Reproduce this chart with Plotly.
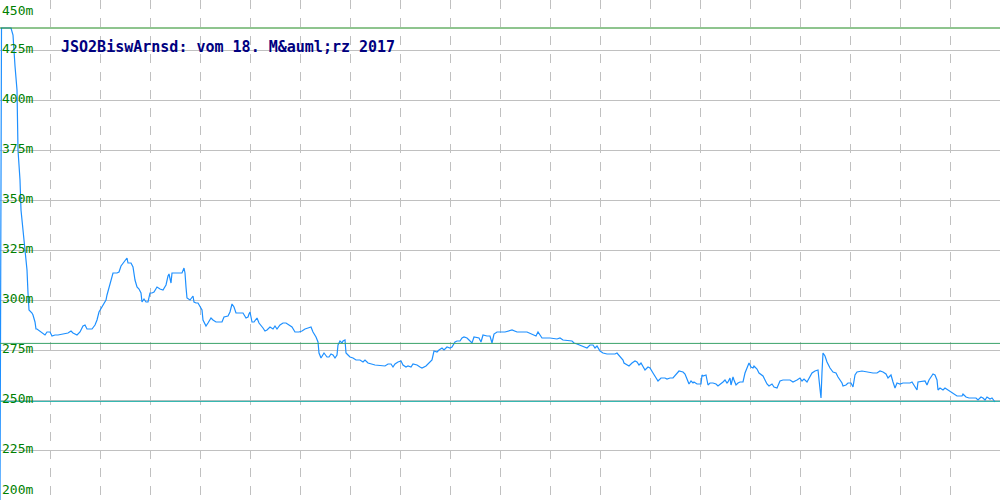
import plotly.graph_objects as go

# distance along track (chart units) and elevation in metres
dist = [0, 1.5, 11, 13, 15, 17, 18, 20, 21, 23, 25, 26, 27, 28, 29, 32, 33, 35, 36, 37, 40, 45, 47, 50, 52, 55, 58, 63, 68, 71, 73, 77, 80, 83, 85, 87, 92, 95, 97, 99, 102, 104, 106, 107, 109, 111, 113, 117, 119, 121, 124, 125, 127, 128, 131, 133, 135, 137, 139, 141, 142, 144, 146, 148, 150, 152, 154, 157, 160, 163, 166, 168, 169, 171, 172, 175, 182, 184, 185, 186, 187, 190, 192, 193, 194, 196, 198, 199, 202, 203, 206, 208, 211, 213, 216, 222, 224, 228, 230, 232, 234, 236, 243, 246, 248, 249, 250, 252, 254, 257, 259, 263, 265, 267, 270, 273, 275, 277, 280, 283, 286, 289, 292, 295, 299, 302, 305, 308, 311, 313, 316, 318, 319, 321, 323, 324, 327, 329, 331, 333, 335, 337, 338, 340, 342, 343, 345, 346, 348, 350, 353, 356, 360, 363, 365, 368, 375, 385, 388, 391, 393, 395, 398, 401, 403, 406, 408, 411, 413, 417, 420, 422, 426, 429, 432, 434, 437, 439, 442, 444, 447, 450, 452, 455, 457, 460, 462, 464, 467, 469, 472, 474, 477, 479, 481, 483, 487, 490, 492, 494, 497, 500, 505, 512, 517, 527, 533, 536, 538, 542, 550, 557, 560, 563, 572, 574, 577, 580, 583, 587, 590, 593, 595, 597, 600, 603, 607, 615, 617, 620, 623, 624, 627, 629, 632, 635, 637, 639, 641, 643, 645, 648, 650, 653, 656, 658, 661, 665, 667, 670, 673, 677, 679, 683, 685, 687, 689, 691, 693, 694, 697, 701, 702, 703, 706, 708, 710, 713, 716, 718, 721, 723, 725, 727, 728, 730, 731, 733, 734, 736, 738, 740, 743, 745, 747, 749, 751, 753, 754, 757, 759, 763, 765, 767, 769, 772, 774, 777, 780, 783, 790, 793, 797, 800, 802, 804, 807, 808, 812, 815, 818, 820, 821, 822, 823, 825, 827, 830, 833, 836, 838, 842, 843, 846, 848, 851, 853, 855, 857, 862, 867, 870, 873, 877, 880, 883, 886, 888, 891, 893, 895, 897, 900, 903, 907, 910, 912, 914, 917, 918, 922, 925, 927, 929, 933, 935, 937, 938, 940, 943, 945, 948, 950, 953, 957, 962, 963, 966, 969, 976, 978, 981, 983, 985, 987, 990, 992, 995]
elev = [200, 436, 436, 432.5, 417, 405, 375, 360, 345, 335, 325, 320, 315, 303.5, 295, 293.5, 292.5, 289, 285.5, 285.5, 284.5, 282.5, 284, 284, 282, 282.5, 282.5, 283, 283.5, 284.5, 283.5, 282.5, 284, 287, 287.5, 285.5, 285.5, 287.5, 290, 294, 296.5, 298.5, 300, 302.5, 306.5, 309, 313.5, 313.5, 314, 317, 319, 320, 321, 318.5, 318.5, 316.5, 310, 306.5, 305.5, 303.5, 299, 300.5, 299, 299, 303.5, 303.5, 304, 306.5, 305.5, 305, 307.5, 312, 313, 308.5, 313.5, 313.5, 313.5, 316, 313.5, 306.5, 301, 300, 301, 302, 299, 298.5, 298.5, 297.5, 295, 290, 287, 288.5, 291, 290, 289, 289, 291.5, 292, 294, 298, 296.5, 293.5, 293.5, 291, 291.5, 293, 294, 289, 289, 291, 288.5, 286, 284.5, 285, 286.5, 285.5, 287, 285.5, 287.5, 288.5, 288.5, 287.5, 286.5, 284, 284, 284.5, 285.5, 286, 286.5, 284, 281.5, 279, 273.5, 271, 272.5, 273.5, 271.5, 271.5, 273, 272.5, 271, 272.5, 277.5, 279.5, 278.5, 279.5, 280, 273.5, 272.5, 271.5, 271, 270, 270, 269, 270, 268.5, 267.5, 267, 268, 268, 266.5, 268, 269, 269.5, 267.5, 266.5, 267, 266.5, 268, 267.5, 266.5, 266, 267, 268.5, 270, 274.5, 274, 275, 276, 275, 276.5, 276, 276.5, 279, 279.5, 279.5, 281, 281.5, 281, 280, 278.5, 281.5, 281, 281, 279, 282.5, 282, 282, 278.5, 283, 284, 284, 284, 285, 284, 284, 282.5, 282, 284, 281, 281, 280.5, 281, 280, 279.5, 278.5, 278, 277.5, 277, 276, 277.5, 277.5, 276, 277, 274.5, 273.5, 273, 273, 273.5, 272, 270, 268.5, 267.5, 267, 268.5, 269.5, 269, 267.5, 268.5, 267, 265, 266.5, 266, 263.5, 261, 259.5, 261, 261, 260.5, 261, 261, 263.5, 264.5, 264, 263, 260.5, 258, 259.5, 258.5, 259, 258, 258, 262.5, 262, 262.5, 257.5, 258.5, 258.5, 258, 257, 258, 259, 260, 258.5, 259, 261, 257.5, 261.5, 260, 257.5, 258.5, 259, 259, 263.5, 266, 268.5, 266.5, 266, 267, 265.5, 263.5, 262, 260, 258, 257, 258, 256.5, 256, 259.5, 260, 260, 259, 260, 261, 259.5, 260.5, 259, 260, 263.5, 264.5, 265, 255.5, 251, 264, 273.5, 272, 269, 266, 264, 263.5, 261.5, 258.5, 257, 257.5, 258.5, 258.5, 256.5, 262.5, 264, 264.5, 264, 263.5, 263.5, 263.5, 264.5, 264, 263, 261, 262.5, 259, 256, 258.5, 258, 258.5, 258.5, 258.5, 259, 257.5, 255, 259, 259.5, 259.5, 257.5, 260, 263, 262.5, 260, 255, 256, 255, 256, 255, 254, 253, 252, 252, 253, 251.5, 251, 251, 250, 251.5, 251, 250, 251.5, 250.5, 251, 249]

tick_vals = [200, 225, 250, 275, 300, 325, 350, 375, 400, 425, 450]
tick_text = ["200m", "225m", "250m", "275m", "300m", "325m", "350m", "375m", "400m", "425m", "450m"]

elev_max = 436
elev_avg = 278.3
elev_min = 249.3

title_text = "JSO2BiswArnsd: vom 18. M&amp;auml;rz 2017"

fig = go.Figure()
fig.add_trace(go.Scatter(x=dist, y=elev, mode="lines",
                         line=dict(color="#1E90FF", width=1.2), hoverinfo="skip"))

ref_lines = [(elev_max, "#1f8a1f"), (elev_avg, "#3aa36a"), (elev_min, "#1fb0a8")]
for val, col in ref_lines:
    fig.add_shape(type="line", xref="paper", yref="y", x0=0, x1=1, y0=val, y1=val,
                  line=dict(color=col, width=1), layer="above")

for v, t in zip(tick_vals, tick_text):
    if v == tick_vals[-1]:
        ya, ys = "top", -1
    elif v == tick_vals[0]:
        ya, ys = "bottom", 1
    else:
        ya, ys = "middle", 2
    fig.add_annotation(x=0, xref="paper", y=v, yref="y", text=t, showarrow=False,
                       xanchor="left", yanchor=ya, yshift=ys, xshift=0,
                       font=dict(family="DejaVu Sans Mono", size=13, color="#008000"))

fig.add_annotation(x=59, xref="x", y=425, yref="y", text="<b>" + title_text + "</b>",
                   showarrow=False, xanchor="left", yanchor="middle", yshift=3,
                   font=dict(family="DejaVu Sans Mono", size=15, color="#000080"))

fig.update_layout(
    width=1000, height=500,
    margin=dict(l=0, r=0, t=0, b=0),
    paper_bgcolor="white", plot_bgcolor="white",
    showlegend=False,
    xaxis=dict(range=[0, 1000], tick0=0, dtick=50, showgrid=True, gridcolor="#c0c0c0",
               griddash="dash", gridwidth=1, showticklabels=False, zeroline=False,
               showline=True, linecolor="#c0c0c0", mirror=True, ticks=""),
    yaxis=dict(range=[200, 450], tickvals=tick_vals, showgrid=True, gridcolor="#c0c0c0",
               gridwidth=1, showticklabels=False, zeroline=False,
               showline=True, linecolor="#c0c0c0", mirror=True, ticks=""),
)

fig.write_html("out.html", config={"displayModeBar": False, "staticPlot": True},
               post_script="document.body.style.margin='0';document.body.style.overflow='hidden';")
